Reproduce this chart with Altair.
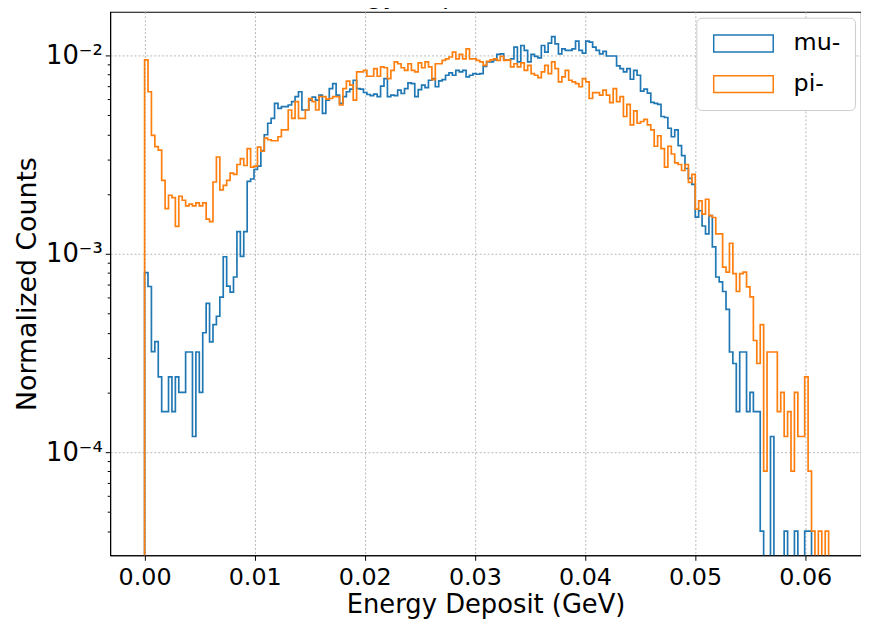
import altair as alt
import numpy as np
import pandas as pd

# ---------------- data ----------------
SERIES = ["mu-", "pi-"]
COLORS = ["#1f77b4", "#ff7f0e"]
N_BINS = 200
E_RANGE = [0.0, 0.06213]          # histogram range (GeV)

# log10 of the normalized count in each of the 200 bins (None = empty bin)
mu_log10 = [
    -3.095, -3.165, -3.493, -3.443, -3.620, -3.796, -3.796, -3.620, -3.796, -3.620,
    -3.699, -3.699, -3.495, -3.495, -3.921, -3.495, -3.699, -3.398, -3.250, -3.444,
    -3.357, -3.315, -3.218, -3.015, -3.163, -3.193, -3.117, -2.888, -3.013, -2.888,
    -2.635, -2.623, -2.575, -2.558, -2.480, -2.400, -2.342, -2.317, -2.242, -2.267,
    -2.258, -2.258, -2.250, -2.233, -2.208, -2.183, -2.275, -2.275, -2.225, -2.210,
    -2.225, -2.200, -2.292, -2.225, -2.167, -2.142, -2.200, -2.242, -2.208, -2.183,
    -2.170, -2.125, -2.167, -2.170, -2.187, -2.197, -2.203, -2.195, -2.208, -2.155,
    -2.117, -2.208, -2.200, -2.203, -2.175, -2.192, -2.167, -2.138, -2.142, -2.208,
    -2.172, -2.150, -2.162, -2.125, -2.117, -2.158, -2.128, -2.122, -2.100, -2.088,
    -2.100, -2.075, -2.083, -2.075, -2.108, -2.100, -2.092, -2.095, -2.092, -2.055,
    -2.033, -2.033, -2.022, -1.995, -1.992, -2.022, -2.022, -2.017, -1.958, -2.033,
    -1.950, -1.975, -2.033, -1.995, -2.005, -2.012, -1.950, -1.983, -1.938, -1.905,
    -1.942, -1.992, -1.967, -1.975, -1.975, -1.967, -1.928, -1.975, -1.988, -1.928,
    -1.933, -1.958, -1.975, -1.992, -1.980, -2.003, -2.003, -2.003, -2.053, -2.067,
    -2.083, -2.067, -2.120, -2.075, -2.100, -2.180, -2.170, -2.190, -2.237, -2.242,
    -2.247, -2.308, -2.313, -2.367, -2.410, -2.375, -2.455, -2.505, -2.570, -2.620,
    -2.650, -2.815, -2.783, -2.860, -2.900, -2.808, -2.965, -3.117, -3.142, -3.190,
    -3.280, -3.495, -3.553, -3.796, -3.495, -3.495, -3.796, -3.699, -3.796, -3.796,
    -4.398, None, None, -3.921, None, None, None, -4.398, None, None,
    -4.398, None, None, -4.398, -4.398, None, None, None, None, None,
]

pi_log10 = [
    -2.022, -2.183, -2.403, -2.460, -2.477, -2.630, -2.772, -2.705, -2.717, -2.862,
    -2.710, -2.730, -2.758, -2.750, -2.758, -2.743, -2.758, -2.743, -2.825, -2.838,
    -2.638, -2.512, -2.678, -2.655, -2.630, -2.593, -2.600, -2.550, -2.520, -2.555,
    -2.470, -2.563, -2.558, -2.462, -2.483, -2.417, -2.425, -2.430, -2.430, -2.410,
    -2.375, -2.375, -2.275, -2.317, -2.233, -2.317, -2.317, -2.275, -2.217, -2.233,
    -2.275, -2.208, -2.208, -2.220, -2.217, -2.208, -2.208, -2.250, -2.167, -2.130,
    -2.150, -2.225, -2.083, -2.083, -2.075, -2.105, -2.105, -2.067, -2.105, -2.058,
    -2.062, -2.117, -2.075, -2.033, -2.042, -2.062, -2.075, -2.042, -2.075, -2.083,
    -2.038, -2.062, -2.033, -2.058, -2.122, -2.042, -2.042, -2.025, -2.017, -2.008,
    -1.983, -2.017, -1.995, -2.017, -1.967, -2.017, -2.017, -2.025, -2.033, -2.050,
    -2.030, -2.022, -2.017, -2.025, -2.005, -2.025, -2.022, -2.058, -2.042, -2.058,
    -2.038, -2.075, -2.050, -2.092, -2.100, -2.112, -2.083, -2.050, -2.092, -2.033,
    -2.067, -2.133, -2.108, -2.075, -2.125, -2.133, -2.142, -2.158, -2.117, -2.133,
    -2.217, -2.188, -2.188, -2.200, -2.175, -2.200, -2.238, -2.167, -2.233, -2.208,
    -2.308, -2.247, -2.350, -2.280, -2.342, -2.333, -2.322, -2.350, -2.375, -2.458,
    -2.405, -2.470, -2.563, -2.458, -2.497, -2.542, -2.550, -2.580, -2.550, -2.640,
    -2.600, -2.775, -2.733, -2.800, -2.725, -2.808, -2.817, -2.900, -2.900, -3.067,
    -3.092, -2.947, -3.100, -3.190, -3.100, -3.092, -3.167, -3.217, -3.437, -3.553,
    -3.357, -4.096, -3.495, -3.495, -3.495, -3.796, -3.699, -3.921, -3.796, -4.096,
    -3.699, -3.921, -3.921, -3.620, -4.096, -4.398, None, -4.398, None, -4.398,
]

X_TICKS = [0.0, 0.01, 0.02, 0.03, 0.04, 0.05, 0.06]
Y_MAJOR = [1e-4, 1e-3, 1e-2]
Y_MINOR = [4e-5, 5e-5, 6e-5, 7e-5, 8e-5, 9e-5,
           2e-4, 3e-4, 4e-4, 5e-4, 6e-4, 7e-4, 8e-4, 9e-4,
           2e-3, 3e-3, 4e-3, 5e-3, 6e-3, 7e-3, 8e-3, 9e-3]
X_DOMAIN = [-0.003126, 0.06507]
Y_DOMAIN = [10 ** -4.52, 10 ** -1.78]
TITLE = "Energy Deposit Distribution"
X_TITLE = "Energy Deposit (GeV)"
Y_TITLE = "Normalized Counts"

# ---------------- build step outline table ----------------
edges = np.linspace(E_RANGE[0], E_RANGE[1], N_BINS + 1)
FLOOR = 1e-9   # empty bins: drawn down past the bottom of the log axis (clipped)
rows = []
for name, logs in zip(SERIES, [mu_log10, pi_log10]):
    pts = [(edges[0], FLOOR)]
    for i, v in enumerate(logs):
        pts.append((edges[i], FLOOR if v is None else 10.0 ** v))
    pts.append((edges[-1], FLOOR))
    for k, (e, y) in enumerate(pts):
        rows.append({"particle": name, "energy": float(e), "norm": float(y), "step": k})
df = pd.DataFrame(rows)

FONT = "DejaVu Sans"
major_test = "abs(log(datum.value)/LN10 - round(log(datum.value)/LN10)) < 1e-6"
label_expr = (
    "datum.value > 0.009 && datum.value < 0.011 ? '10\u207b\u00b2' : "
    "datum.value > 0.0009 && datum.value < 0.0011 ? '10\u207b\u00b3' : "
    "datum.value > 0.00009 && datum.value < 0.00011 ? '10\u207b\u2074' : ''"
)

chart = (
    alt.Chart(df)
    .mark_line(interpolate="step-after", strokeWidth=1.7, clip=True)
    .encode(
        x=alt.X(
            "energy:Q",
            scale=alt.Scale(domain=X_DOMAIN, nice=False, zero=False),
            axis=alt.Axis(
                values=X_TICKS, format=".2f", title=X_TITLE,
                labelFontSize=24, titleFontSize=26, tickSize=5, labelPadding=5,
                titleY=49.5, titleBaseline="middle", labelOverlap=False,
            ),
        ),
        y=alt.Y(
            "norm:Q",
            scale=alt.Scale(type="log", domain=Y_DOMAIN, nice=False),
            axis=alt.Axis(
                values=Y_MAJOR + Y_MINOR, labelExpr=label_expr, title=Y_TITLE,
                labelFontSize=26, titleFontSize=27, labelPadding=3,
                tickSize={"condition": {"test": major_test, "value": 5}, "value": 3},
                gridOpacity={"condition": {"test": major_test, "value": 1}, "value": 0},
                labelOverlap=False, titleX=-83, titleY=274, titleAngle=270,
                titleAlign="center", titleBaseline="middle",
            ),
        ),
        color=alt.Color(
            "particle:N",
            scale=alt.Scale(domain=SERIES, range=COLORS),
            legend=alt.Legend(
                title=None, orient="none", legendX=591, legendY=6, direction="vertical",
                symbolType="M-1,-1H6.06V1H-1Z", symbolSize=289, symbolStrokeWidth=1.5,
                symbolFillColor="transparent",
                labelFontSize=24, labelFont=FONT, labelColor="black", labelOffset=60,
                padding=14, rowPadding=17, fillColor="white", strokeColor="#cccccc",
                cornerRadius=5,
            ),
        ),
        order=alt.Order("step:Q"),
    )
    .properties(
        width=757, height=548,
        title=alt.TitleParams(TITLE, fontSize=26, font=FONT, fontWeight="normal", color="black"),
        autosize=alt.AutoSizeParams(type="none"),
        padding={"left": 103, "top": 1.3, "right": 0, "bottom": 63},
    )
    .configure_view(stroke="black", strokeWidth=1.1)
    .configure_axis(
        labelFont=FONT, titleFont=FONT, labelColor="black", titleColor="black",
        titleFontWeight="normal", domainColor="black", domainWidth=1.1,
        tickColor="black", tickWidth=1, gridColor="#b8b8b8", gridDash=[2, 2], gridWidth=1,
    )
)

chart.save("out.html", embed_options={"renderer": "svg", "actions": False})
